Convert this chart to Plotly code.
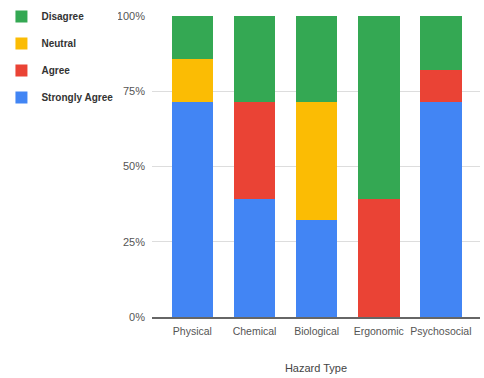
import plotly.graph_objects as go

hazards = ["Physical", "Chemical", "Biological", "Ergonomic", "Psychosocial"]
strongly_agree = [71.4, 39.3, 32.1, 0, 71.4]
agree = [0, 32.1, 0, 39.3, 10.7]
neutral = [14.3, 0, 39.3, 0, 0]
disagree = [14.3, 28.6, 28.6, 60.7, 17.9]

y_ticks = [0, 25, 50, 75, 100]
y_tick_text = ["0%", "25%", "50%", "75%", "100%"]

# stacked bottom-to-top; legend lists them top-to-bottom
series = [
    ("Strongly Agree", strongly_agree, "#4285F4", 4),
    ("Agree", agree, "#EA4335", 3),
    ("Neutral", neutral, "#FBBC04", 2),
    ("Disagree", disagree, "#34A853", 1),
]

FONT = "Arial, 'Liberation Sans', sans-serif"

fig = go.Figure()
for name, vals, color, rank in series:
    fig.add_trace(go.Bar(
        x=hazards, y=vals, name=name, legendgroup=name, legendrank=rank,
        marker=dict(color=color, line=dict(width=0)),
    ))

fig.update_layout(
    width=484, height=378,
    margin=dict(l=152, r=4, t=16, b=61, autoexpand=False),
    barmode="stack", bargap=0.33,
    plot_bgcolor="white", paper_bgcolor="white",
    font=dict(family=FONT, size=11, color="#444"),
    legend=dict(
        xref="container", yref="container", x=0.003, y=0.995,
        xanchor="left", yanchor="top",
        traceorder="grouped", tracegroupgap=8,
        font=dict(family=FONT, size=10, color="#333", weight="bold"),
        itemwidth=30,
    ),
    xaxis=dict(
        range=[-0.65, 4.63], showgrid=False, showline=True,
        linecolor="#666", linewidth=1.5, ticks="", tickangle=0,
        automargin=False, ticklabelstandoff=4,
        title=dict(text="Hazard Type", standoff=28, font=dict(size=11, color="#444")),
        tickfont=dict(size=10.5, color="#555"),
    ),
    yaxis=dict(
        range=[0, 100], tickvals=y_ticks, ticktext=y_tick_text,
        showgrid=True, gridcolor="#ddd", zeroline=False, ticks="",
        automargin=False, ticklabelstandoff=6,
        tickfont=dict(size=11, color="#555"),
    ),
)

fig.write_html("out.html")
